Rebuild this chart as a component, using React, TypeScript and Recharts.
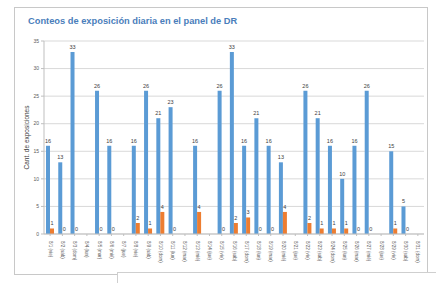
import React from 'react';
import { BarChart, Bar, XAxis, YAxis, CartesianGrid, LabelList } from 'recharts';

const days = [
  '8/1 (vie)', '8/2 (sáb)', '8/3 (dom)', '8/4 (lun)', '8/5 (mar)', '8/6 (mié)', '8/7 (jue)',
  '8/8 (vie)', '8/9 (sáb)', '8/10 (dom)', '8/11 (lun)', '8/12 (mar)', '8/13 (mié)', '8/14 (jue)',
  '8/15 (vie)', '8/16 (sáb)', '8/17 (dom)', '8/18 (lun)', '8/19 (mar)', '8/20 (mié)', '8/21 (jue)',
  '8/22 (vie)', '8/23 (sáb)', '8/24 (dom)', '8/25 (lun)', '8/26 (mar)', '8/27 (mié)', '8/28 (jue)',
  '8/29 (vie)', '8/30 (sáb)', '8/31 (dom)',
];

// null = no data that day
const blueCounts = [
  16, 13, 33, null, 26, 16, null, 16, 26, 21, 23, null, 16, null, 26, 33,
  16, 21, 16, 13, null, 26, 21, 16, 10, 16, 26, null, 15, 5, null,
];
const orangeCounts = [
  1, 0, 0, null, 0, 0, null, 2, 1, 4, 0, null, 4, null, 0, 2,
  3, 0, 0, 4, null, 2, 1, 1, 1, 0, 0, null, 1, 0, null,
];

const yTicks = [0, 5, 10, 15, 20, 25, 30, 35];

const data = days.map((d, i) => ({ day: d, a: blueCounts[i], b: orangeCounts[i] }));

const font = 'Liberation Sans, Arial, sans-serif';

const DayTick = (props: any) => {
  const { x, y, payload } = props;
  return (
    <text
      x={x}
      y={y + 3}
      transform={`rotate(90, ${x}, ${y + 3})`}
      textAnchor="start"
      dominantBaseline="central"
      fontSize={4.5}
      fill="#595959"
      fontFamily={font}
    >
      {payload.value}
    </text>
  );
};

const SmallLabel = (props: any) => {
  const { x, y, width, value } = props;
  if (value === null || value === undefined) return null;
  return (
    <text x={x + width / 2} y={y - 3} textAnchor="middle" fontSize={5.5} fill="#404040" fontFamily={font}>
      {value}
    </text>
  );
};

const App = () => {
  return (
    <div style={{ position: 'absolute', left: 0, top: 0, width: 436, height: 283, background: '#fff', overflow: 'hidden' }}>
      <div
        style={{
          position: 'absolute', left: 14, top: 7, width: 412, height: 266,
          border: '1px solid #c8c8c8', background: '#fff',
        }}
      />
      <div
        style={{
          position: 'absolute', left: 28, top: 16, fontSize: 9.3, fontWeight: 'bold',
          color: '#4a7ebb', fontFamily: font, whiteSpace: 'nowrap',
        }}
      >
        Conteos de exposición diaria en el panel de DR
      </div>
      <div
        style={{
          position: 'absolute', left: 117, top: 272, width: 330, height: 20,
          border: '1px solid #cfcfcf', background: '#fff',
        }}
      />
      <div style={{ position: 'absolute', left: 0, top: 0 }}>
        <BarChart
          width={436}
          height={283}
          data={data}
          margin={{ top: 41, right: 12, bottom: 9, left: 34 }}
          barGap={0}
          barSize={4}
        >
          <CartesianGrid vertical={false} stroke="#d9d9d9" />
          <XAxis dataKey="day" interval={0} tick={<DayTick />} tickSize={2} stroke="#bfbfbf" height={40} />
          <YAxis
            domain={[0, 35]}
            ticks={yTicks}
            width={10}
            tickSize={3}
            stroke="#bfbfbf"
            tick={{ fontSize: 5, fill: '#595959', fontFamily: font }}
            label={{
              value: 'Cant. de exposiciones',
              angle: -90,
              position: 'insideLeft',
              offset: 0,
              dx: -7,
              style: { fontSize: 6.5, fill: '#404040', fontFamily: font, textAnchor: 'middle' },
            }}
          />
          <Bar dataKey="a" fill="#5b9bd5" isAnimationActive={false}>
            <LabelList dataKey="a" content={<SmallLabel />} />
          </Bar>
          <Bar dataKey="b" fill="#ed7d31" minPointSize={0.01} isAnimationActive={false}>
            <LabelList dataKey="b" content={<SmallLabel />} />
          </Bar>
        </BarChart>
      </div>
    </div>
  );
};

export default App;
